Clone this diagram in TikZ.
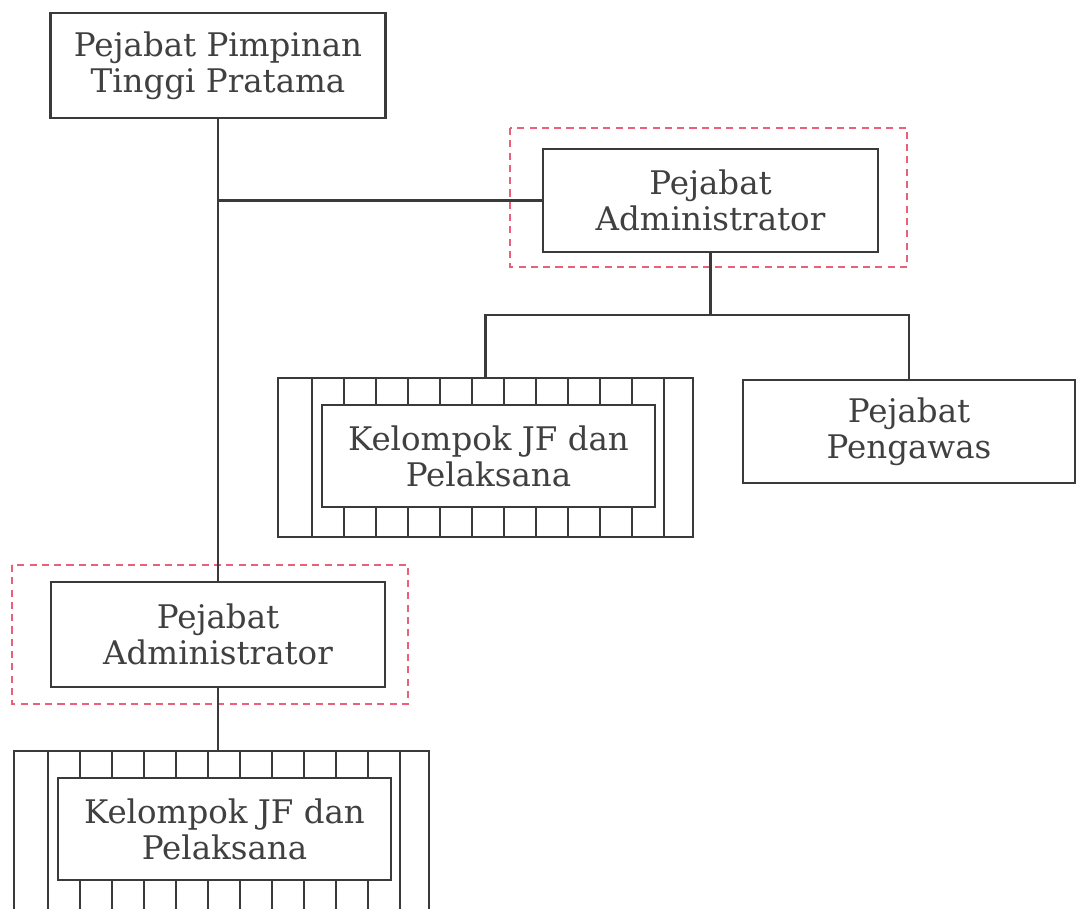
\documentclass[tikz,border=0pt]{standalone}
\usepackage{fontspec}
\setmainfont{DejaVu Serif}
\definecolor{linegray}{HTML}{3A3A3A}
\definecolor{textgray}{HTML}{404040}
\definecolor{framered}{HTML}{E8607A}

% Hatched "Kelompok JF dan Pelaksana" block: #1 name, (#2,#3) top-left corner
\newcommand\kelompokbox[3]{%
  \begin{scope}[shift={(#2,#3)}]
    \node[outerbox, anchor=north west] (#1) at (0,0) {};
    \draw[line] (35,0) -- (35,159);
    \draw[line] (387,0) -- (387,159);
    \foreach \k in {1,...,10}{
      \draw[line] ({35+32*\k},0) -- ({35+32*\k},28);
      \draw[line] ({35+32*\k},130) -- ({35+32*\k},159);
    }
    \node[box, minimum width=6.66cm, minimum height=2.04cm] (#1in) at (211.5,79) {Kelompok JF dan\\Pelaksana};
  \end{scope}}

\begin{document}
\begin{tikzpicture}[x=0.02cm, y=-0.02cm,
  line/.style={draw=linegray, line width=1.3pt},
  box/.style={draw=linegray, line width=1.3pt, fill=white, inner sep=0pt,
    align=center, text=textgray, font=\fontsize{18.5}{20.5}\selectfont},
  outerbox/.style={draw=linegray, line width=1.3pt, inner sep=0pt,
    minimum width=8.3cm, minimum height=3.18cm},
  frame/.style={draw=framered, line width=1pt, dash pattern=on 4pt off 3pt}]
\clip (0,0) rectangle (1079,909);
\fill[white] (0,0) rectangle (1079,909);

% dashed highlight frames
\draw[frame] (510,128) rectangle (907,267);
\draw[frame] (12,565) rectangle (408,704);

% boxes
\node[box, minimum width=6.7cm, minimum height=2.1cm] (top) at (218,65.5) {Pejabat Pimpinan\\Tinggi Pratama};
\node[box, minimum width=6.7cm, minimum height=2.06cm] (adm1) at (710.5,200.5) {Pejabat\\Administrator};
\node[box, minimum width=6.64cm, minimum height=2.06cm] (peng) at (909,431.5) {Pejabat\\Pengawas};
\node[box, minimum width=6.68cm, minimum height=2.1cm] (adm2) at (218,634.5) {Pejabat\\Administrator};
\kelompokbox{kel1}{277}{377}
\kelompokbox{kel2}{13}{750}

% connectors
\coordinate (bus) at (700,315);
\draw[line] (top.south) -- (adm2.north);
\draw[line] (top.south |- adm1.west) -- (adm1.west);
\draw[line] (adm1.south) -- (adm1.south |- bus);
\draw[line] (kel1.north) -- (kel1.north |- bus) -- (peng.north |- bus) -- (peng.north);
\draw[line] (adm2.south) -- (adm2.south |- kel2.north);
\end{tikzpicture}
\end{document}
